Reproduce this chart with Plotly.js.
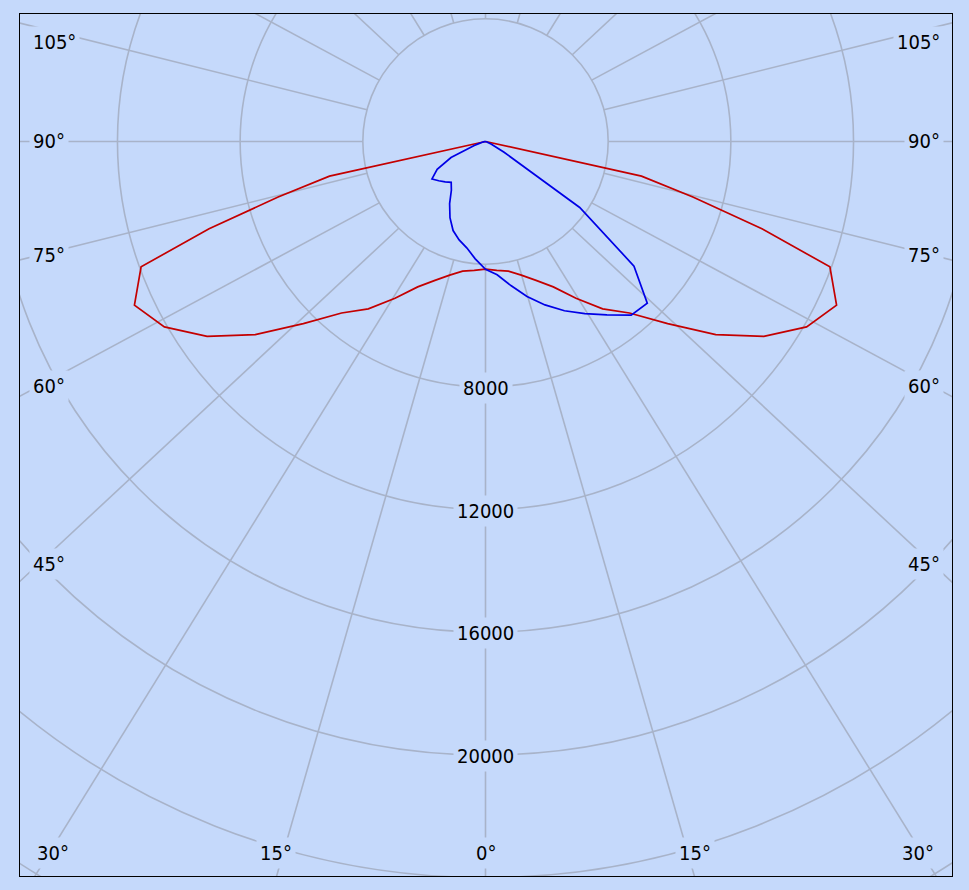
<!DOCTYPE html>
<html><head><meta charset="utf-8">
<script src="https://cdn.plot.ly/plotly-3.0.1.min.js"></script>
<style>
html,body{margin:0;padding:0;background:#c5d9fb;width:969px;height:890px;overflow:hidden;}
#frame{position:absolute;left:19px;top:13px;width:932px;height:862px;border:1px solid #000;overflow:hidden;background:#c5d9fb;}
#chart{position:absolute;}
</style></head><body>
<div id="frame"><div id="chart"></div></div>
<script>
// ---- data (luminous intensity, cd) ----
const gamma = [0,5,10,15,20,25,30,35,40,45,50,55,60,65,70,72.5,75,77.5,80,82.5,85,87.5,90];
const redRight  = [4160,4220,4290,4510,4820,5230,5900,6660,7300,8400,9800,11080,12090,12630,11950,9450,7000,5210,0,0,0,0,0];
const redLeft   = [4160,4220,4290,4510,4820,5230,5900,6660,7300,8400,9800,11080,12090,12630,11950,9450,7000,5210,0,0,0,0,0];
const blueRight = [4170,4360,4770,5230,5670,6090,6480,6900,7390,7460,6320,3750,700,200,65,30,0,0,0,0,0,0,0];
const blueLeft  = [4170,3840,3520,3320,3090,2740,2340,1940,1740,1860,1990,2130,1820,1240,390,230,130,65,30,0,0,0,0];
const ringValues = [4000,8000,12000,16000,20000,24000,28000];
const ringLabels = [8000,12000,16000,20000];
const spokeAngles = [-165,-150,-135,-120,-105,-90,-75,-60,-45,-30,-15,0,15,30,45,60,75,90,105,120,135,150,165,180];
const leftAngleLabels = ['105°','90°','75°','60°','45°'];
const bottomAngleLabels = ['30°','15°','0°','15°','30°'];

// ---- geometry / style ----
const BG = '#c5d9fb', GRID = '#a8b3c9';
const FONT = {family:'"DejaVu Sans Condensed", "DejaVu Sans", sans-serif', size:20, color:'#000'};
const CX = 485, CY = 141.5;            // page position of the pole
const FRAME_X = 20, FRAME_Y = 14;      // page position of frame content box
const PXPU = 0.03067;                  // pixels per cd
const D = 1963;                        // plot div size
const RMAX = (D/2)/PXPU;
const KEFF = 0.932;                    // spoke aspect as drawn in the reference
const inner = ringValues[0];

const chart = document.getElementById('chart');
chart.style.left = (CX - D/2 - FRAME_X) + 'px';
chart.style.top = (CY - D/2 - FRAME_Y) + 'px';
chart.style.width = D + 'px';
chart.style.height = D + 'px';

function px2paper(px, py){
  return {x:(px - (CX - D/2))/D, y:1 - (py - (CY - D/2))/D};
}

// spokes from the inner ring outwards
const sr = [], st = [];
spokeAngles.forEach(a => {
  const t = a*Math.PI/180;
  const xi = inner*Math.sin(t), yi = inner*Math.cos(t);
  const L = 27000;
  const xo = xi + L*Math.sin(t), yo = yi + L*KEFF*Math.cos(t);
  sr.push(inner, Math.hypot(xo, yo), null);
  st.push(a, Math.atan2(xo, yo)*180/Math.PI, null);
});

function curve(left, right){
  const r = [], th = [];
  for (let i = gamma.length-1; i >= 0; i--){ r.push(left[i]); th.push(-gamma[i]); }
  for (let i = 0; i < gamma.length; i++){ r.push(right[i]); th.push(gamma[i]); }
  return {r, th};
}
const red = curve(redLeft, redRight);
const blue = curve(blueLeft, blueRight);

const traces = [
  {type:'scatterpolar', mode:'lines', r:sr, theta:st, line:{color:GRID, width:1.6}, hoverinfo:'skip', showlegend:false},
  {type:'scatterpolar', mode:'lines', r:red.r, theta:red.th, line:{color:'#c40000', width:1.7}, name:'C0-C180', showlegend:false},
  {type:'scatterpolar', mode:'lines', r:blue.r, theta:blue.th, line:{color:'#0000e6', width:1.7}, name:'C90-C270', showlegend:false}
];

const annotations = [];
ringLabels.forEach(v => {
  const p = px2paper(CX, CY + v*PXPU + 1);
  annotations.push({xref:'paper', yref:'paper', x:p.x, y:p.y, xanchor:'center', yanchor:'middle',
    text:String(v), showarrow:false, font:FONT, bgcolor:BG, borderpad:3});
});
const sideY = [41.7, 140.8, 255, 385.5, 563.8];
leftAngleLabels.forEach((t, i) => {
  const pl = px2paper(28, sideY[i]);
  annotations.push({xref:'paper', yref:'paper', x:pl.x, y:pl.y, xanchor:'left', yanchor:'middle',
    text:t, showarrow:false, font:FONT, bgcolor:BG, borderpad:3});
  const pr = px2paper(943, sideY[i]);
  annotations.push({xref:'paper', yref:'paper', x:pr.x, y:pr.y, xanchor:'right', yanchor:'middle',
    text:t, showarrow:false, font:FONT, bgcolor:BG, borderpad:3});
});
const bottomX = [52.5, 275.5, 485, 694.5, 917.5];
bottomAngleLabels.forEach((t, i) => {
  const p = px2paper(bottomX[i], 852.5);
  annotations.push({xref:'paper', yref:'paper', x:p.x, y:p.y, xanchor:'center', yanchor:'middle',
    text:t, showarrow:false, font:FONT, bgcolor:BG, borderpad:3});
});

const layout = {
  width:D, height:D, autosize:false,
  margin:{l:0, r:0, t:0, b:0, pad:0},
  paper_bgcolor:BG, plot_bgcolor:BG,
  showlegend:false,
  font:FONT,
  polar:{
    domain:{x:[0,1], y:[0,1]},
    bgcolor:BG,
    radialaxis:{range:[0, RMAX], tickvals:ringValues, showticklabels:false, ticks:'', showline:false,
      gridcolor:GRID, gridwidth:1.6},
    angularaxis:{rotation:-90, direction:'counterclockwise', showgrid:false, showticklabels:false,
      ticks:'', showline:false}
  },
  annotations
};
Plotly.newPlot(chart, traces, layout, {displayModeBar:false, staticPlot:true});
</script>
</body></html>
